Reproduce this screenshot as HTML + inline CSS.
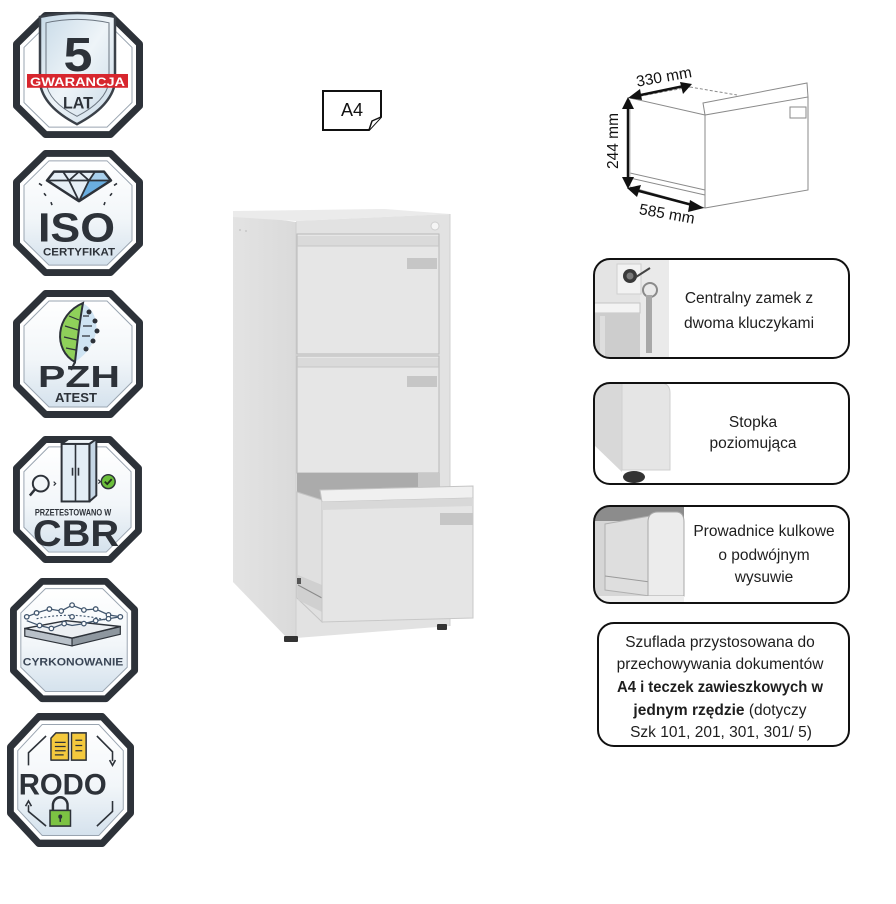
<!DOCTYPE html>
<html><head><meta charset="utf-8">
<style>
html,body{margin:0;padding:0;background:#fff;}
svg{display:block;}
.t{font-family:"Liberation Sans",sans-serif;font-size:15.5px;fill:#1e1e1e;}
.b{font-family:"Liberation Sans",sans-serif;font-weight:bold;fill:#2d3239;}
</style></head><body>
<svg width="896" height="904" viewBox="0 0 896 904" xmlns="http://www.w3.org/2000/svg">
<defs>
 <linearGradient id="bg" x1="0" y1="0" x2="0" y2="1"><stop offset="0" stop-color="#ffffff"/><stop offset="0.55" stop-color="#f2f6f9"/><stop offset="1" stop-color="#d5e2ed"/></linearGradient>
 <linearGradient id="sh" x1="0" y1="0" x2="1" y2="1"><stop offset="0" stop-color="#c6d9e7"/><stop offset="0.5" stop-color="#eef4f8"/><stop offset="1" stop-color="#c9dae8"/></linearGradient>
 <linearGradient id="side" x1="0" y1="0" x2="1" y2="0"><stop offset="0" stop-color="#e3e3e3"/><stop offset="1" stop-color="#dadada"/></linearGradient>
 <clipPath id="c1"><rect x="594" y="259" width="255" height="99" rx="16"/></clipPath>
 <clipPath id="c2"><rect x="594" y="383" width="255" height="101" rx="16"/></clipPath>
 <clipPath id="c3"><rect x="594" y="506" width="255" height="97" rx="16"/></clipPath>
</defs>

<!-- B1 -->
<g transform="translate(13,12) scale(1,0.984)">
 <path d="M32.5,3.5 H97.5 L126.5,32.5 V95.5 L97.5,124.5 H32.5 L3.5,95.5 V32.5 Z" fill="#fff" stroke="#2d3239" stroke-width="7" stroke-linejoin="round"/>
 <path d="M36,11 H94 L119,36 V92 L94,117 H36 L11,92 V36 Z" fill="#fff" stroke="#9aa5b1" stroke-width="1"/>
 <path d="M27,5 Q64,-3 102,5 L102,72 Q98,96 64,114 Q30,96 27,72 Z" fill="url(#sh)" stroke="#3b4149" stroke-width="2.5"/>
 <path d="M33,11 Q64,4 96,11 L96,71 Q93,91 64,106 Q35,91 33,71 Z" fill="none" stroke="#6b7580" stroke-width="1"/>
 <text x="65" y="60" class="b" font-size="49" text-anchor="middle" textLength="29" lengthAdjust="spacingAndGlyphs">5</text>
 <rect x="14" y="63" width="101" height="14" fill="#d7262e"/>
 <text x="64.5" y="75" class="b" font-size="12.5" text-anchor="middle" style="fill:#fff" textLength="95" lengthAdjust="spacingAndGlyphs">GWARANCJA</text>
 <text x="65" y="98" class="b" font-size="17" text-anchor="middle" textLength="30" lengthAdjust="spacingAndGlyphs">LAT</text>
</g>

<!-- B2 -->
<g transform="translate(13,150) scale(1,0.984)">
 <path d="M32.5,3.5 H97.5 L126.5,32.5 V95.5 L97.5,124.5 H32.5 L3.5,95.5 V32.5 Z" fill="#fff" stroke="#2d3239" stroke-width="7" stroke-linejoin="round"/>
 <path d="M36,11 H94 L119,36 V92 L94,117 H36 L11,92 V36 Z" fill="url(#bg)" stroke="#9aa5b1" stroke-width="1"/>
 <polygon points="41,22 91,22 98,31 66,52 34,31" fill="#e6eff6"/>
 <polygon points="76,31 98,31 66,52" fill="#6aaee0"/>
 <polygon points="82,22 91,22 98,31 76,31" fill="#a9d0ec"/>
 <polygon points="41,22 91,22 98,31 66,52 34,31" fill="none" stroke="#2d3239" stroke-width="2.5" stroke-linejoin="round"/>
 <path d="M34,31 H98 M50,22 L56,31 L66,52 M82,22 L76,31 L66,52 M56,31 L66,22 L76,31" fill="none" stroke="#2d3239" stroke-width="1.8" stroke-linejoin="round"/>
 <path d="M26,34 l3,2 M31,44 l2,2.5 M38,53 l1,3 M104,34 l-3,2 M99,44 l-2,2.5 M92,53 l-1,3" stroke="#2d3239" stroke-width="1.6"/>
 <text x="63.5" y="93" class="b" font-size="41" text-anchor="middle" textLength="77" lengthAdjust="spacingAndGlyphs">ISO</text>
 <text x="66" y="107" class="b" font-size="11.5" text-anchor="middle" textLength="72" lengthAdjust="spacingAndGlyphs">CERTYFIKAT</text>
</g>

<!-- B3 -->
<g transform="translate(13,290)">
 <path d="M32.5,3.5 H97.5 L126.5,32.5 V95.5 L97.5,124.5 H32.5 L3.5,95.5 V32.5 Z" fill="#fff" stroke="#2d3239" stroke-width="7" stroke-linejoin="round"/>
 <path d="M36,11 H94 L119,36 V92 L94,117 H36 L11,92 V36 Z" fill="url(#bg)" stroke="#9aa5b1" stroke-width="1"/>
 <path d="M70,13 C90,25 88,55 62,72 C64,55 66,35 70,13 Z" fill="#cfe4f3"/>
 <path d="M62,72 C40,60 42,25 70,13 C66,35 64,55 62,72 Z" fill="#8fd05a" stroke="#2d3239" stroke-width="2"/>
 <path d="M66,30 L56,26 M65,40 L52,36 M64,50 L51,47 M63,60 L53,58" stroke="#2d3239" stroke-width="1.2"/>
 <circle cx="76" cy="22" r="2.5" fill="#2d3239"/><circle cx="82" cy="31" r="2.5" fill="#2d3239"/>
 <circle cx="84" cy="41" r="2.5" fill="#2d3239"/><circle cx="80" cy="51" r="2.5" fill="#2d3239"/>
 <circle cx="73" cy="59" r="2.5" fill="#2d3239"/><circle cx="65" cy="5" r="1.5" fill="#2d3239"/>
 <path d="M70,26 H76 M70,36 H79 M69,46 H77" stroke="#2d3239" stroke-width="1.2"/>
 <path d="M62,72 L58,80" stroke="#2d3239" stroke-width="2"/>
 <text x="66" y="97" class="b" font-size="31" text-anchor="middle" textLength="82" lengthAdjust="spacingAndGlyphs">PZH</text>
 <text x="63" y="112" class="b" font-size="13" text-anchor="middle" textLength="42" lengthAdjust="spacingAndGlyphs">ATEST</text>
</g>

<!-- B4 -->
<g transform="translate(13,436) scale(0.992,0.992)">
 <path d="M32.5,3.5 H97.5 L126.5,32.5 V95.5 L97.5,124.5 H32.5 L3.5,95.5 V32.5 Z" fill="#fff" stroke="#2d3239" stroke-width="7" stroke-linejoin="round"/>
 <path d="M36,11 H94 L119,36 V92 L94,117 H36 L11,92 V36 Z" fill="url(#bg)" stroke="#9aa5b1" stroke-width="1"/>
 <polygon points="77,8 84,3 84,60 77,66" fill="#c5d6e4" stroke="#2d3239" stroke-width="2" stroke-linejoin="round"/>
 <polygon points="49,8 56,3 84,3 77,8" fill="#eef4f8" stroke="#2d3239" stroke-width="2" stroke-linejoin="round"/>
 <rect x="49" y="8" width="28" height="58" fill="#e3edf5" stroke="#2d3239" stroke-width="2"/>
 <path d="M63,8 V66 M60,32 V40 M66,32 V40" stroke="#2d3239" stroke-width="1.6"/>
 <circle cx="28" cy="48" r="8" fill="#f2f6f9" stroke="#2d3239" stroke-width="2"/>
 <path d="M22,54 L17,60" stroke="#2d3239" stroke-width="2.5"/>
 <path d="M41,46 l2,2 l-2,2 M86,44 l2,2 l-2,2" fill="none" stroke="#2d3239" stroke-width="1.2"/>
 <circle cx="96" cy="46" r="7" fill="#6bbf3a" stroke="#2d3239" stroke-width="1.5"/>
 <path d="M92.5,46 L95,48.5 L99.5,43.5" fill="none" stroke="#1e2b1a" stroke-width="1.8"/>
 <text x="60.5" y="80" class="b" font-size="9" text-anchor="middle" textLength="77" lengthAdjust="spacingAndGlyphs">PRZETESTOWANO W</text>
 <text x="63.5" y="111" class="b" font-size="37" text-anchor="middle" textLength="87" lengthAdjust="spacingAndGlyphs">CBR</text>
</g>

<!-- B5 -->
<g transform="translate(10,578) scale(0.985,0.97)">
 <path d="M32.5,3.5 H97.5 L126.5,32.5 V95.5 L97.5,124.5 H32.5 L3.5,95.5 V32.5 Z" fill="#fff" stroke="#2d3239" stroke-width="7" stroke-linejoin="round"/>
 <path d="M36,11 H94 L119,36 V92 L94,117 H36 L11,92 V36 Z" fill="url(#bg)" stroke="#9aa5b1" stroke-width="1"/>
 <polygon points="15,60 63,70 63,62 15,52" fill="#b9c1c9" stroke="#2d3239" stroke-width="1.2"/>
 <polygon points="63,62 112,50 112,58 63,70" fill="#8e979f" stroke="#2d3239" stroke-width="1.2"/>
 <polygon points="15,52 57,44 112,50 63,62" fill="#eceff2" stroke="#2d3239" stroke-width="1.5" stroke-linejoin="round"/>
 <path d="M17,40 L27,36 L40,32 L52,34 L63,28 L75,33 L87,32 L100,38 L112,40" fill="none" stroke="#41566e" stroke-width="1.3"/>
 <path d="M17,44 L30,49 L42,52 L55,47 L63,49 L75,47 L87,44 L100,42 L112,40" fill="none" stroke="#41566e" stroke-width="1.3"/>
 <path d="M27,42 Q63,34 100,44" fill="none" stroke="#41566e" stroke-width="1.2" stroke-dasharray="2,2"/>
 <g fill="#fff" stroke="#41566e" stroke-width="1.3">
  <circle cx="17" cy="40" r="2.3"/><circle cx="27" cy="36" r="2.3"/><circle cx="40" cy="32" r="2.3"/><circle cx="52" cy="34" r="2.3"/><circle cx="63" cy="28" r="2.3"/><circle cx="75" cy="33" r="2.3"/><circle cx="87" cy="32" r="2.3"/><circle cx="100" cy="38" r="2.3"/><circle cx="112" cy="40" r="2.3"/>
  <circle cx="30" cy="49" r="2.3"/><circle cx="42" cy="52" r="2.3"/><circle cx="55" cy="47" r="2.3"/><circle cx="63" cy="40" r="2.3"/><circle cx="75" cy="47" r="2.3"/><circle cx="87" cy="44" r="2.3"/><circle cx="100" cy="42" r="2.3"/>
 </g>
 <text x="64" y="90" class="b" font-size="11" text-anchor="middle" style="fill:#3a4656" textLength="102" lengthAdjust="spacingAndGlyphs">CYRKONOWANIE</text>
</g>

<!-- B6 -->
<g transform="translate(7,713) scale(0.977,1.047)">
 <path d="M32.5,3.5 H97.5 L126.5,32.5 V95.5 L97.5,124.5 H32.5 L3.5,95.5 V32.5 Z" fill="#fff" stroke="#2d3239" stroke-width="7" stroke-linejoin="round"/>
 <path d="M36,11 H94 L119,36 V92 L94,117 H36 L11,92 V36 Z" fill="url(#bg)" stroke="#9aa5b1" stroke-width="1"/>
 <path d="M40,22 L22,38 V50 M92,22 L108,37 V46 M40,108 L22,94 V88 M92,108 L108,94 V84" fill="none" stroke="#2d3239" stroke-width="1.6"/>
 <path d="M105,45 L108,50 L111,45 M19,89 L22,84 L25,89" fill="none" stroke="#2d3239" stroke-width="1.6"/>
 <polygon points="45,24 50,19 63,19 63,45 45,45" fill="#f4c93d" stroke="#2d3239" stroke-width="1.5" stroke-linejoin="round"/>
 <rect x="66" y="19" width="15" height="26" fill="#f4c93d" stroke="#2d3239" stroke-width="1.5"/>
 <path d="M49,28 H60 M49,32 H60 M49,36 H60 M49,40 H58 M70,26 H77 M70,31 H77 M70,36 H77" stroke="#2d3239" stroke-width="1.2"/>
 <text x="57" y="78" class="b" font-size="28" text-anchor="middle" textLength="90" lengthAdjust="spacingAndGlyphs">RODO</text>
 <path d="M47,93 V88 A7.5,7.5 0 0 1 62,88 V93" fill="none" stroke="#2d3239" stroke-width="2.5"/>
 <rect x="44" y="93" width="21" height="15" fill="#7cc243" stroke="#2d3239" stroke-width="1.5"/>
 <circle cx="54.5" cy="99" r="2" fill="#2d3239"/><rect x="53.7" y="99" width="1.6" height="5" fill="#2d3239"/>
</g>

<!-- A4 icon -->
<path d="M323,91 H381 V117 L369,130 H323 Z" fill="#fff" stroke="#111" stroke-width="2"/>
<path d="M369,130 L372,121 L381,117" fill="#fff" stroke="#111" stroke-width="1.5"/>
<text x="352" y="116" font-family="Liberation Sans, sans-serif" font-size="18" text-anchor="middle" fill="#111">A4</text>

<!-- CABINET -->
<polygon points="233,213 296,222 296,640 289,640 233,582" fill="url(#side)"/>
<polygon points="233,211 385,209 450,214 296,221 233,217" fill="#ebebeb"/>
<polygon points="296,221 450,214 450,626 296,638" fill="#e2e2e2"/>
<line x1="296" y1="222" x2="296" y2="638" stroke="#cfcfcf"/>
<line x1="450" y1="214" x2="450" y2="626" stroke="#d0d0d0"/>
<circle cx="435" cy="226" r="4" fill="#f5f5f5" stroke="#cfcfcf"/>
<circle cx="240" cy="230" r="1" fill="#c8c8c8"/><circle cx="246" cy="231" r="1" fill="#c8c8c8"/>
<rect x="297" y="234" width="142" height="120" fill="#e6e6e6" stroke="#b8b8b8"/>
<rect x="297.5" y="236" width="141" height="10" fill="#dadada"/>
<line x1="297" y1="246" x2="439" y2="246" stroke="#c6c6c6"/>
<rect x="407" y="258" width="30" height="11" fill="#c6c6c6"/>
<rect x="297" y="356" width="142" height="117" fill="#e6e6e6" stroke="#b8b8b8"/>
<rect x="297.5" y="358" width="141" height="9" fill="#dadada"/>
<line x1="297" y1="367" x2="439" y2="367" stroke="#c6c6c6"/>
<rect x="407" y="376" width="30" height="11" fill="#c6c6c6"/>
<polygon points="297,473 440,473 440,490 322,500 297,492" fill="#ababab"/>
<polygon points="418,473 440,473 440,488 418,488" fill="#c8c8c8"/>
<polygon points="297,492 322,500 322,622 297,598" fill="#e0e0e0" stroke="#c4c4c4"/>
<polygon points="298,575 322,585 322,612 298,600" fill="#d0d0d0"/>
<line x1="298" y1="585" x2="322" y2="598" stroke="#8a8a8a"/>
<rect x="297" y="578" width="4" height="6" fill="#555"/>
<polygon points="322,502 473,498 473,618 322,622" fill="#e5e5e5" stroke="#c8c8c8"/>
<polygon points="320,490 473,486 473,498 322,502" fill="#f0f0f0" stroke="#c4c4c4"/>
<polygon points="322,502 473,498 473,506 322,510" fill="#d8d8d8"/>
<rect x="440" y="513" width="33" height="12" fill="#c6c6c6"/>
<rect x="284" y="636" width="14" height="6" rx="1" fill="#333"/>
<rect x="437" y="624" width="10" height="6" rx="1" fill="#333"/>

<!-- DIMENSION DRAWING -->
<g fill="none" stroke="#8a8a8a" stroke-width="1">
 <path d="M630,98 L705,115 M630,173 L705,190 M630,178 L705,195 M705,115 V208 M630,187 L705,208"/>
 <path d="M703,103 L807,83 L808,97 L705,115 Z"/>
 <path d="M808,97 V190 L705,208"/>
 <path d="M690,87 L737,95" stroke-dasharray="3,2"/>
 <path d="M630,98 L690,87" stroke-dasharray="3,2"/>
 <rect x="790" y="107" width="16" height="11"/>
 <path d="M630,100 V186" stroke="#bdbdbd"/>
</g>
<g stroke="#111" stroke-width="2.5" fill="#111">
 <line x1="636" y1="96" x2="684" y2="86"/>
 <polygon points="628,98 640,89 642,100" stroke="none"/>
 <polygon points="692,84 680,82 683,94" stroke="none"/>
 <line x1="628" y1="106" x2="628" y2="180"/>
 <polygon points="628,97 622,109 634,109" stroke="none"/>
 <polygon points="628,189 622,177 634,177" stroke="none"/>
 <line x1="635" y1="190" x2="696" y2="206"/>
 <polygon points="627,188 641,185 637,197" stroke="none"/>
 <polygon points="704,208 690,200 688,212" stroke="none"/>
</g>
<text x="664" y="82" transform="rotate(-10 664 77)" font-family="Liberation Sans, sans-serif" font-size="15.5" text-anchor="middle" fill="#111">330 mm</text>
<text x="613" y="146" transform="rotate(-90 613 141)" font-family="Liberation Sans, sans-serif" font-size="15.5" text-anchor="middle" fill="#111">244 mm</text>
<text x="667" y="219" transform="rotate(10 667 214)" font-family="Liberation Sans, sans-serif" font-size="15.5" text-anchor="middle" fill="#111">585 mm</text>

<!-- FEATURE BOXES -->
<g clip-path="url(#c1)">
 <rect x="594" y="259" width="75" height="99" fill="#e4e4e4"/>
 <rect x="640" y="259" width="29" height="99" fill="#eaeaea"/>
 <rect x="617" y="264" width="24" height="30" fill="#f2f2f2" stroke="#cfcfcf"/>
 <rect x="594" y="303" width="46" height="10" fill="#f3f3f3" stroke="#c4c4c4"/>
 <rect x="594" y="313" width="46" height="45" fill="#cdcdcd"/>
 <rect x="600" y="316" width="5" height="42" fill="#dedede"/>
 <circle cx="630" cy="276" r="7" fill="#3a3a3a"/><circle cx="630" cy="276" r="3.5" fill="#7a7a7a"/>
 <line x1="636" y1="277" x2="650" y2="268" stroke="#444" stroke-width="2"/>
 <circle cx="650" cy="290" r="7" fill="none" stroke="#8a8a8a" stroke-width="2"/>
 <rect x="646" y="295" width="6" height="58" fill="#a8a8a8"/>
</g>
<g clip-path="url(#c2)">
 <polygon points="594,383 622,383 622,472 594,445" fill="#d8d8d8"/>
 <path d="M622,383 H660 Q670,383 670,393 V470 H622 Z" fill="#e5e5e5" stroke="#cfcfcf"/>
 <ellipse cx="634" cy="477" rx="11" ry="6" fill="#333"/>
</g>
<g clip-path="url(#c3)">
 <rect x="594" y="506" width="90" height="98" fill="#d6d6d6"/>
 <rect x="594" y="506" width="90" height="15" fill="#8c8c8c"/>
 <polygon points="605,524 650,516 650,596 605,590" fill="#dedede" stroke="#b0b0b0"/>
 <line x1="605" y1="576" x2="650" y2="582" stroke="#9a9a9a"/>
 <path d="M648,596 V522 Q648,512 658,512 H676 Q684,512 684,522 V596 Z" fill="#ececec" stroke="#a8a8a8"/>
 <rect x="594" y="596" width="90" height="8" fill="#eeeeee"/>
</g>
<g fill="none" stroke="#111" stroke-width="2">
 <rect x="594" y="259" width="255" height="99" rx="16"/>
 <rect x="594" y="383" width="255" height="101" rx="16"/>
 <rect x="594" y="506" width="255" height="97" rx="16"/>
 <rect x="598" y="623" width="251" height="123" rx="16"/>
</g>

<text class="t" text-anchor="middle"><tspan x="749" y="303">Centralny zamek z</tspan><tspan x="749" y="328">dwoma kluczykami</tspan></text>
<text class="t" text-anchor="middle"><tspan x="753" y="427">Stopka</tspan><tspan x="753" y="448">poziomująca</tspan></text>
<text class="t" text-anchor="middle"><tspan x="764" y="536">Prowadnice kulkowe</tspan><tspan x="764" y="560">o podwójnym</tspan><tspan x="764" y="582">wysuwie</tspan></text>
<text class="t" text-anchor="middle" x="720" y="647">Szuflada przystosowana do</text>
<text class="t" text-anchor="middle" x="720" y="669">przechowywania dokumentów</text>
<text class="t" text-anchor="middle" x="720" y="692" font-weight="bold" textLength="206" lengthAdjust="spacingAndGlyphs">A4 i teczek zawieszkowych w</text>
<text class="t" text-anchor="middle" x="720" y="715"><tspan font-weight="bold">jednym rzędzie</tspan> (dotyczy</text>
<text class="t" text-anchor="middle" x="721" y="737">Szk 101, 201, 301, 301/ 5)</text>
</svg>
</body></html>
